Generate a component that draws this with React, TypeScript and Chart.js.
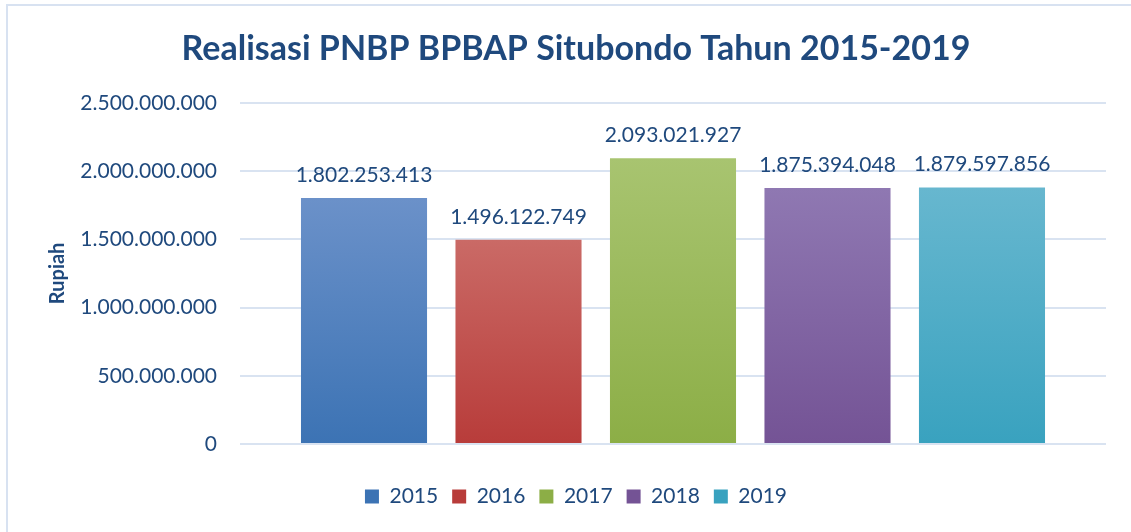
import React, { useEffect, useRef } from "react";
import { Chart, registerables } from "chart.js";

Chart.register(...registerables);

const titleText = "Realisasi PNBP BPBAP Situbondo Tahun 2015-2019";
const yAxisTitle = "Rupiah";
const years = ["2015", "2016", "2017", "2018", "2019"];
const values = [1802253413, 1496122749, 2093021927, 1875394048, 1879597856];
const topColors = ["#6b91c9", "#ca6a66", "#a8c470", "#8f78b2", "#67b7cf"];
const bottomColors = ["#3c73b4", "#b83c3a", "#8cae46", "#745395", "#39a2bf"];
const midColors = ["#4f81bd", "#c0504d", "#9bbb59", "#8064a2", "#4bacc6"];
const yTicks = [0, 500000000, 1000000000, 1500000000, 2000000000, 2500000000];

const TEXT = "#1f497d";
const fmt = (v: number) => Math.round(v).toString().replace(/\B(?=(\d{3})+(?!\d))/g, ".");

const dataLabels = {
  id: "dataLabels",
  afterDatasetsDraw(chart: any) {
    const ctx = chart.ctx;
    ctx.save();
    ctx.font = "21px Lato";
    ctx.fillStyle = TEXT;
    ctx.textAlign = "center";
    ctx.textBaseline = "alphabetic";
    chart.data.datasets.forEach((ds: any, i: number) => {
      const meta = chart.getDatasetMeta(i);
      meta.data.forEach((bar: any, j: number) => {
        ctx.fillText(fmt(ds.data[j]), bar.x, bar.y - 16);
      });
    });
    ctx.restore();
  },
};

export default function App() {
  const ref = useRef<HTMLCanvasElement>(null);
  useEffect(() => {
    if (!ref.current) return;
    Chart.defaults.font.family = "Lato";
    const chart = new Chart(ref.current, {
      type: "bar",
      data: {
        labels: [""],
        datasets: years.map((y, i) => ({
          label: y,
          data: [values[i]],
          borderWidth: 0,
          backgroundColor: (c: any) => {
            const ch = c.chart;
            const area = ch.chartArea;
            if (c.type !== "data" || !area) return midColors[i];
            const top = ch.scales.y.getPixelForValue(values[i]);
            const g = ch.ctx.createLinearGradient(0, top, 0, area.bottom);
            g.addColorStop(0, topColors[i]);
            g.addColorStop(1, bottomColors[i]);
            return g;
          },
          categoryPercentage: 0.892,
          barPercentage: 0.816,
        })),
      },
      options: {
        responsive: false,
        animation: false,
        layout: { padding: { left: 46, right: 25, top: 10, bottom: 15 } },
        plugins: {
          title: {
            display: true,
            text: titleText,
            color: TEXT,
            font: { size: 34, weight: "bold", family: "Lato" },
            padding: { top: 19, bottom: 33 },
          },
          legend: {
            position: "bottom",
            labels: {
              color: TEXT,
              font: { size: 21, family: "Lato" },
              boxWidth: 14,
              boxHeight: 14,
              padding: 14,
            },
          },
          tooltip: { enabled: false },
        },
        scales: {
          x: {
            grid: { display: false },
            border: { display: false },
            ticks: { display: false },
            afterFit: (s: any) => {
              s.height = 28;
            },
          },
          y: {
            min: 0,
            max: 2500000000,
            afterBuildTicks: (s: any) => {
              s.ticks = yTicks.map((v) => ({ value: v }));
            },
            afterFit: (s: any) => {
              s.width = 194;
            },
            grid: { color: "#d9e3f1", lineWidth: 2, drawTicks: false },
            border: { display: false },
            ticks: {
              color: TEXT,
              font: { size: 21, family: "Lato" },
              padding: 23,
              callback: (v: any) => fmt(Number(v)),
            },
            title: {
              display: true,
              text: yAxisTitle,
              color: TEXT,
              font: { size: 20, weight: "bold", family: "Lato" },
              padding: 0,
            },
          },
        },
      },
      plugins: [dataLabels],
    });
    return () => chart.destroy();
  }, []);

  return (
    <div
      style={{
        position: "fixed",
        left: 0,
        top: 0,
        width: 1131,
        height: 532,
        background: "#ffffff",
        overflow: "hidden",
      }}
    >
      <div
        style={{
          position: "absolute",
          left: 6,
          top: 4,
          width: 1300,
          height: 700,
          border: "2px solid #d8e2f1",
        }}
      />
      <canvas
        ref={ref}
        width={1131}
        height={532}
        style={{ position: "absolute", left: 0, top: 0, width: 1131, height: 532 }}
      />
    </div>
  );
}
